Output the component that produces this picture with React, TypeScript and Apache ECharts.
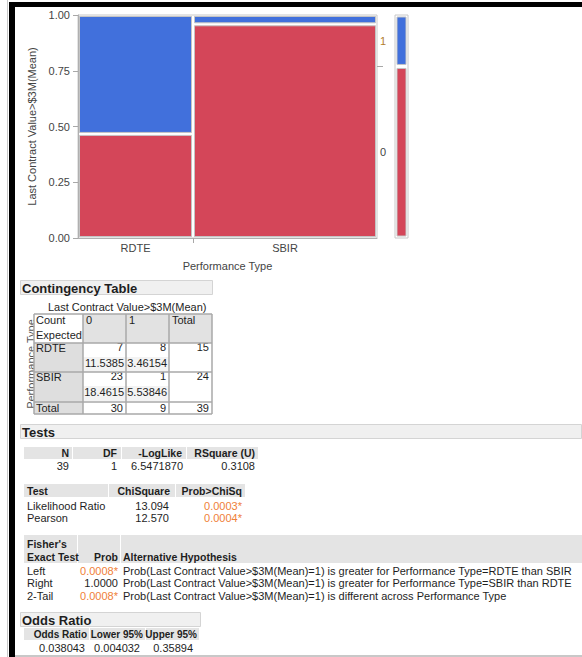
import React, { useEffect, useRef } from 'react';
import * as echarts from 'echarts';

// ---- Data ----
const performanceTypes = ['RDTE', 'SBIR'];
const responseLevels = ['0', '1'];
// counts by performance type (rows) and response level (columns)
const cellCounts = [
  [7, 8],
  [23, 1],
];
const expectedCounts = [
  ['11.5385', '3.46154'],
  ['18.4615', '5.53846'],
];

const summaryHeads = ['N', 'DF', '-LogLike', 'RSquare (U)'];
const summaryVals = ['39', '1', '6.5471870', '0.3108'];

const chiTests = ['Likelihood Ratio', 'Pearson'];
const chiSquares = ['13.094', '12.570'];
const chiProbs = ['0.0003*', '0.0004*'];

const fisherTests = ['Left', 'Right', '2-Tail'];
const fisherProbs = ['0.0008*', '1.0000', '0.0008*'];
const fisherHypotheses = [
  'Prob(Last Contract Value>$3M(Mean)=1) is greater for Performance Type=RDTE than SBIR',
  'Prob(Last Contract Value>$3M(Mean)=1) is greater for Performance Type=SBIR than RDTE',
  'Prob(Last Contract Value>$3M(Mean)=1) is different across Performance Type',
];

const oddsHeads = ['Odds Ratio', 'Lower 95%', 'Upper 95%'];
const oddsVals = ['0.038043', '0.004032', '0.35894'];

// ---- Styling ----
const FONT = '"Liberation Sans", Arial, sans-serif';
const INK = '#1e1e1e';
const AXIS_INK = '#444444';
const SIG = '#ef8038';
const LEVEL_COLORS = ['#d44659', '#4170dc'];
const HEAD_FILL = '#e4e4e4';

function buildOption() {
  const rowTotals = cellCounts.map((r) => r[0] + r[1]);
  const levelTotals = responseLevels.map((_, j) => cellCounts.reduce((s, r) => s + r[j], 0));
  const grand = rowTotals.reduce((a, b) => a + b, 0);

  // mosaic cells: [x0, x1, y0, y1, level]
  const mosaic: number[][] = [];
  const centers: number[] = [];
  const boundaries: number[] = [];
  let acc = 0;
  rowTotals.forEach((tot, r) => {
    const x0 = acc / grand;
    const x1 = (acc + tot) / grand;
    centers.push((x0 + x1) / 2);
    if (r < rowTotals.length - 1) boundaries.push(x1);
    const split = cellCounts[r][0] / tot;
    mosaic.push([x0, x1, 0, split, 0]);
    mosaic.push([x0, x1, split, 1, 1]);
    acc += tot;
  });
  const margSplit = levelTotals[0] / grand;
  const margin = [
    [0, 1, 0, margSplit, 0],
    [0, 1, margSplit, 1, 1],
  ];
  const levelMids = [margSplit / 2, (margSplit + 1) / 2];

  const renderCell = (inset: number) => (params: any, api: any) => {
    const p0 = api.coord([api.value(0), api.value(3)]);
    const p1 = api.coord([api.value(1), api.value(2)]);
    return {
      type: 'rect',
      shape: {
        x: p0[0] + inset,
        y: p0[1] + inset,
        width: p1[0] - p0[0] - 2 * inset,
        height: p1[1] - p0[1] - 2 * inset,
      },
      style: { fill: LEVEL_COLORS[api.value(4)], stroke: '#c4c4c4', lineWidth: 1 },
    };
  };

  // ---- report tables drawn as graphic elements ----
  const el: any[] = [];
  const T = (
    text: string,
    x: number,
    y: number,
    o: { align?: string; bold?: boolean; color?: string; size?: number; rot?: number } = {}
  ) =>
    el.push({
      type: 'text',
      x,
      y,
      rotation: o.rot || 0,
      silent: true,
      style: {
        text,
        fill: o.color || INK,
        fontSize: o.size || 11,
        fontFamily: FONT,
        fontWeight: o.bold ? 'bold' : 'normal',
        textAlign: o.align || 'left',
        textVerticalAlign: 'middle',
      },
    });
  const R = (x: number, y: number, w: number, h: number, fill: string, stroke?: string) =>
    el.push({
      type: 'rect',
      silent: true,
      shape: { x, y, width: w, height: h },
      style: { fill, stroke: stroke || 'none', lineWidth: 1 },
    });
  const L = (x1: number, y1: number, x2: number, y2: number, color: string, w = 1) =>
    el.push({
      type: 'line',
      silent: true,
      shape: { x1, y1, x2, y2 },
      style: { stroke: color, lineWidth: w },
    });
  const section = (title: string, x0: number, x1: number, y0: number) => {
    R(x0 + 0.5, y0 + 0.5, x1 - x0, 14, '#f0f0f0', '#d4d4d4');
    T(title, x0 + 2, y0 + 8, { bold: true, size: 13 });
  };
  const pcolor = (s: string) => (s.endsWith('*') ? SIG : INK);

  // window frame
  L(7.5, 0, 7.5, 657, '#c8c8c8', 1);
  R(9, 2, 573, 5, '#000');
  R(9, 2, 6, 655, '#000');

  // Contingency table
  section('Contingency Table', 20, 212, 280);
  T('Last Contract Value>$3M(Mean)', 48, 307);
  T('Performance Type', 31, 364, { rot: Math.PI / 2, align: 'center', color: '#555' });
  const CX = [34, 83, 126, 169, 212];
  const CY = [314, 343, 372, 402, 414];
  R(CX[0], CY[0], CX[1] - CX[0], CY[1] - CY[0], '#ffffff');
  R(CX[1], CY[0], CX[4] - CX[1], CY[1] - CY[0], '#e2e2e2');
  R(CX[0], CY[1], CX[1] - CX[0], CY[4] - CY[1], '#dedede');
  R(CX[1], CY[1], CX[4] - CX[1], CY[4] - CY[1], '#ffffff');
  for (let r = 0; r < 2; r++) R(CX[1], CY[r + 1] + 14, CX[3] - CX[1], 15, '#f3f3f3');
  T('Count', 36, 320);
  T('Expected', 36, 335);
  responseLevels.forEach((lv, j) => T(lv, CX[j + 1] + 3, 320));
  T('Total', CX[3] + 3, 320);
  performanceTypes.forEach((name, r) => {
    const top = CY[r + 1];
    T(name, 36, top + 5);
    cellCounts[r].forEach((c, j) => T(String(c), CX[j + 2] - 3, top + 4, { align: 'right' }));
    T(String(rowTotals[r]), CX[4] - 3, top + 4, { align: 'right' });
    expectedCounts[r].forEach((e, j) => T(e, CX[j + 2] - 2, top + 20, { align: 'right' }));
  });
  T('Total', 36, CY[3] + 6);
  levelTotals.forEach((t, j) => T(String(t), CX[j + 2] - 3, CY[3] + 6, { align: 'right' }));
  T(String(grand), CX[4] - 3, CY[3] + 6, { align: 'right' });
  CX.forEach((x) => L(x, CY[0], x, CY[4], '#a8a8a8', 1.5));
  CY.forEach((y) => L(CX[0], y, CX[4], y, '#a8a8a8', 1.5));

  // Tests
  section('Tests', 20, 581, 424);
  const sumCells = [[24, 72], [73, 121], [122, 186], [187, 258]];
  const sumHeadX = [69, 117, 182, 255];
  const sumValX = [69, 117, 183, 255];
  sumCells.forEach(([a, b]) => R(a, 447, b - a, 12, HEAD_FILL));
  summaryHeads.forEach((h, i) => T(h, sumHeadX[i], 453, { bold: true, align: 'right', size: 10.5 }));
  summaryVals.forEach((v, i) => T(v, sumValX[i], 466, { align: 'right' }));

  const chiCells = [[24, 108], [109, 175], [176, 245]];
  chiCells.forEach(([a, b]) => R(a, 484, b - a, 13, HEAD_FILL));
  T('Test', 27, 490.5, { bold: true, size: 10.5 });
  T('ChiSquare', 170, 490.5, { bold: true, align: 'right', size: 10.5 });
  T('Prob>ChiSq', 242, 490.5, { bold: true, align: 'right', size: 10.5 });
  chiTests.forEach((name, i) => {
    const y = 506 + i * 11.5;
    T(name, 27, y);
    T(chiSquares[i], 169, y, { align: 'right' });
    T(chiProbs[i], 242, y, { align: 'right', color: pcolor(chiProbs[i]) });
  });

  const fishCells = [[24, 77], [78, 120], [121, 582]];
  fishCells.forEach(([a, b]) => R(a, 535, b - a, 28, HEAD_FILL));
  T("Fisher's", 27, 544, { bold: true, size: 10.5 });
  T('Exact Test', 27, 557, { bold: true, size: 10.5 });
  T('Prob', 118, 557, { bold: true, align: 'right', size: 10.5 });
  T('Alternative Hypothesis', 123, 557, { bold: true, size: 10.5 });
  fisherTests.forEach((name, i) => {
    const y = 570.5 + i * 12.8;
    T(name, 27, y);
    T(fisherProbs[i], 118, y, { align: 'right', color: pcolor(fisherProbs[i]) });
    T(fisherHypotheses[i], 123, y);
  });

  // Odds ratio
  section('Odds Ratio', 20, 200, 612);
  const oddCells = [[24, 89], [90, 145], [146, 199]];
  const oddHeadX = [87, 143, 197];
  const oddValX = [85, 140, 193];
  oddCells.forEach(([a, b]) => R(a, 628, b - a, 12, HEAD_FILL));
  oddsHeads.forEach((h, i) => T(h, oddHeadX[i], 634, { bold: true, align: 'right', size: 10 }));
  oddsVals.forEach((v, i) => T(v, oddValX[i], 648, { align: 'right' }));
  L(15, 656, 582, 656, '#c8c8c8', 2);

  const axisText = { color: AXIS_INK, fontSize: 11, fontFamily: FONT };
  const nearest = (v: number, arr: number[]) => {
    let best = 0;
    arr.forEach((c, i) => {
      if (Math.abs(c - v) < Math.abs(arr[best] - v)) best = i;
    });
    return best;
  };

  return {
    animation: false,
    grid: [
      { left: 78, top: 15, width: 299, height: 223, show: true, borderColor: '#c8c8c8', borderWidth: 1 },
      { left: 395, top: 15, width: 13, height: 223, show: true, borderColor: '#c8c8c8', borderWidth: 1 },
    ],
    xAxis: [
      {
        type: 'value',
        gridIndex: 0,
        min: 0,
        max: 1,
        name: 'Performance Type',
        nameLocation: 'middle',
        nameGap: 22,
        nameTextStyle: axisText,
        axisLine: { show: true, lineStyle: { color: '#b0b0b0' } },
        axisTick: { show: true, customValues: boundaries, length: 5, lineStyle: { color: '#a8a8a8' } },
        axisLabel: {
          ...axisText,
          customValues: centers,
          margin: 4,
          formatter: (v: number) => performanceTypes[nearest(v, centers)],
        },
        splitLine: { show: false },
      },
      { type: 'value', gridIndex: 1, min: 0, max: 1, show: false },
    ],
    yAxis: [
      {
        type: 'value',
        gridIndex: 0,
        min: 0,
        max: 1,
        interval: 0.25,
        name: 'Last Contract Value>$3M(Mean)',
        nameLocation: 'middle',
        nameGap: 38,
        nameTextStyle: axisText,
        axisLine: { show: true, lineStyle: { color: '#b0b0b0' } },
        axisTick: { show: true, length: 5, lineStyle: { color: '#a8a8a8' } },
        axisLabel: { ...axisText, margin: 8, formatter: (v: number) => v.toFixed(2) },
        splitLine: { show: false },
      },
      {
        type: 'value',
        gridIndex: 0,
        position: 'right',
        min: 0,
        max: 1,
        axisLine: { show: false },
        axisTick: { show: true, customValues: [margSplit], length: 6, lineStyle: { color: '#a8a8a8' } },
        axisLabel: {
          ...axisText,
          customValues: levelMids,
          margin: 3,
          formatter: (v: number) => responseLevels[nearest(v, levelMids)],
          color: (v: any) => (nearest(Number(v), levelMids) === 1 ? '#b07d2c' : AXIS_INK),
        },
        splitLine: { show: false },
      },
      { type: 'value', gridIndex: 1, min: 0, max: 1, show: false },
    ],
    series: [
      {
        type: 'custom',
        xAxisIndex: 0,
        yAxisIndex: 0,
        renderItem: renderCell(1.5),
        encode: { x: [0, 1], y: [2, 3] },
        data: mosaic,
        silent: true,
      },
      {
        type: 'custom',
        xAxisIndex: 1,
        yAxisIndex: 2,
        renderItem: renderCell(2),
        encode: { x: [0, 1], y: [2, 3] },
        data: margin,
        silent: true,
      },
    ],
    graphic: { elements: el },
  };
}

export default function App() {
  const ref = useRef<HTMLDivElement>(null);
  useEffect(() => {
    document.body.style.margin = '0';
    const chart = echarts.init(ref.current!, null, { renderer: 'svg' });
    chart.setOption(buildOption() as any);
    return () => chart.dispose();
  }, []);
  return <div ref={ref} style={{ width: 582, height: 657, background: '#ffffff' }} />;
}
